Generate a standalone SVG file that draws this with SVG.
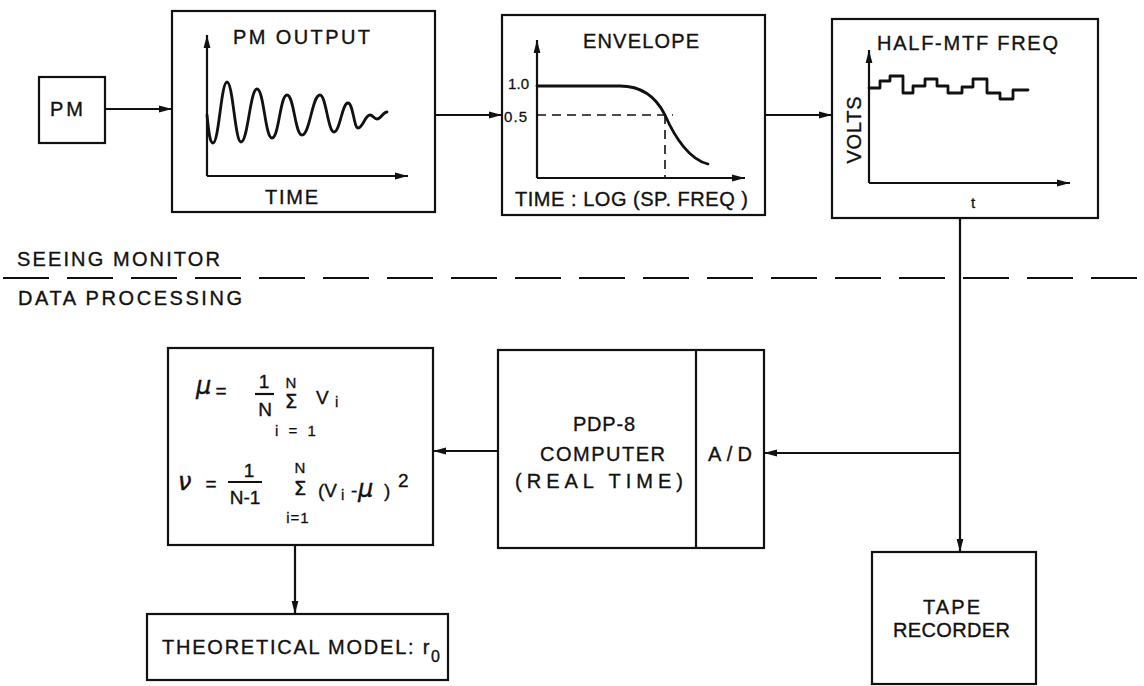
<svg xmlns="http://www.w3.org/2000/svg" width="1144" height="686" viewBox="0 0 1144 686">
<style>
.bx{fill:none;stroke:#111;stroke-width:2.2}
.ln{fill:none;stroke:#111;stroke-width:2.2}
.cv{fill:none;stroke:#111;stroke-width:2.8;stroke-linejoin:round;stroke-linecap:round}
.ds{fill:none;stroke:#111;stroke-width:1.6;stroke-dasharray:9 6}
.t{font-family:"Liberation Sans",Arial,sans-serif;font-size:20px;fill:#111;stroke:#111;stroke-width:0.35}
.s{font-family:"Liberation Sans",Arial,sans-serif;font-size:19px;fill:#111;stroke:#111;stroke-width:0.35}
.k{font-family:"Liberation Sans",Arial,sans-serif;font-size:15px;fill:#111;stroke:#111;stroke-width:0.3}
.g{font-family:"DejaVu Sans","Liberation Sans",sans-serif;font-style:italic;font-size:24px;fill:#111;stroke:#111;stroke-width:0.4}
.sg{font-family:"DejaVu Sans","Liberation Sans",sans-serif;font-size:20px;fill:#111;stroke:#111;stroke-width:0.4}
</style>
<defs>
<marker id="ah" markerWidth="13" markerHeight="8" refX="13" refY="4" orient="auto" markerUnits="userSpaceOnUse"><path d="M0,0.6 L13,4 L0,7.4 z" fill="#111"/></marker>
</defs>
<rect width="1144" height="686" fill="#fff"/>

<g id="divider">
<line x1="3" y1="278" x2="1144" y2="278" class="ln" stroke-width="1.8" stroke-dasharray="46 18"/>
<text class="t" x="17" y="266" textLength="203" lengthAdjust="spacing">SEEING MONITOR</text>
<text class="t" x="18" y="305" textLength="224" lengthAdjust="spacing">DATA PROCESSING</text>
</g>

<g id="pm">
<rect class="bx" x="39" y="77" width="66" height="66"/>
<text class="t" x="50" y="116" textLength="33" lengthAdjust="spacing">PM</text>
</g>

<g id="pm-output">
<rect class="bx" x="172" y="11" width="263" height="201"/>
<text class="t" x="233" y="44" textLength="137" lengthAdjust="spacing">PM OUTPUT</text>
<line class="ln" x1="207" y1="176" x2="207" y2="35" marker-end="url(#ah)"/>
<line class="ln" x1="207" y1="176" x2="408" y2="176" marker-end="url(#ah)"/>
<path class="cv" d="M207,115 C209,135 210,143 213,143 C219,143 221,82 227,82 C233,82 235,142 241,142 C248,142 250,89 257,89 C264,89 265,138 272,138 C279,138 280,95 287,95 C294,95 295,135 302,135 C310,135 312,95 320,95 C326,95 328,132 334,132 C340,132 342,103 348,103 C353,103 354,128 358,128 C363,128 365,115 370,115 C373,115 374,119 377,119 C381,119 383,112 387,112"/>
<text class="t" x="265" y="204" textLength="53" lengthAdjust="spacing">TIME</text>
</g>

<g id="envelope">
<rect class="bx" x="502" y="15" width="263" height="200"/>
<text class="t" x="583" y="48" textLength="116" lengthAdjust="spacing">ENVELOPE</text>
<line class="ln" x1="537" y1="178" x2="537" y2="40" marker-end="url(#ah)"/>
<line class="ln" x1="537" y1="178" x2="745" y2="178" marker-end="url(#ah)"/>
<text class="k" x="508" y="89" font-size="17" textLength="21" lengthAdjust="spacing">1.0</text>
<text class="k" x="504" y="122" font-size="17" textLength="23" lengthAdjust="spacing">0.5</text>
<line class="ds" x1="537" y1="115" x2="673" y2="115"/>
<line class="ds" x1="665" y1="115" x2="665" y2="178"/>
<path class="cv" d="M537,86 H620 C640,86 655,95 665,115 C675,138 690,160 708,164"/>
<text class="t" x="515" y="206" textLength="233" lengthAdjust="spacing">TIME : LOG (SP. FREQ )</text>
</g>

<g id="half-mtf">
<rect class="bx" x="832" y="19" width="266" height="199"/>
<text class="t" x="877" y="50" textLength="181" lengthAdjust="spacing">HALF-MTF FREQ</text>
<line class="ln" x1="869" y1="183" x2="869" y2="50" marker-end="url(#ah)"/>
<line class="ln" x1="869" y1="183" x2="1070" y2="183" marker-end="url(#ah)"/>
<path class="cv" d="M869,88 H880 V81 H890 V76 H903 V93 H913 V86 H925 V79 H937 V86 H948 V93 H962 V87 H973 V79 H987 V93 H1000 V99 H1013 V90 H1028"/>
<text class="t" transform="translate(861,130) rotate(-90)" text-anchor="middle" textLength="67" lengthAdjust="spacing">VOLTS</text>
<text class="k" x="973" y="208" font-size="17" text-anchor="middle">t</text>
</g>

<g id="stats">
<rect class="bx" x="168" y="348" width="265" height="197"/>
<text class="g" x="196" y="394">μ</text>
<text class="s" x="221" y="397" text-anchor="middle">=</text>
<text class="s" x="264" y="388" text-anchor="middle">1</text>
<line class="ln" x1="255" y1="394" x2="274" y2="394" stroke-width="1.8"/>
<text class="s" x="265" y="416" text-anchor="middle">N</text>
<text class="k" x="291" y="388" text-anchor="middle">N</text>
<text class="sg" x="291" y="408" text-anchor="middle">Σ</text>
<text class="k" x="297" y="436" text-anchor="middle" letter-spacing="3">i = 1</text>
<text class="s" x="316" y="404">V</text>
<text class="k" x="335" y="407">i</text>

<text class="g" x="178" y="490">ν</text>
<text class="s" x="211" y="490" text-anchor="middle">=</text>
<text class="s" x="249" y="477" text-anchor="middle">1</text>
<line class="ln" x1="228" y1="482" x2="262" y2="482" stroke-width="1.8"/>
<text class="s" x="245" y="504" text-anchor="middle">N-1</text>
<text class="k" x="300" y="473" text-anchor="middle">N</text>
<text class="sg" x="300" y="495" text-anchor="middle">Σ</text>
<text class="k" x="298" y="523" text-anchor="middle" letter-spacing="1">i=1</text>
<text class="s" x="318" y="497">(V</text>
<text class="k" x="341" y="500">i</text>
<text class="s" x="351" y="497">-</text>
<text class="g" x="358" y="497">μ</text>
<text class="s" x="384" y="497">)</text>
<text class="s" x="398" y="487">2</text>
</g>

<g id="computer">
<rect class="bx" x="498" y="350" width="266" height="198"/>
<line class="ln" x1="696" y1="350" x2="696" y2="548"/>
<text class="t" x="573" y="431" textLength="62" lengthAdjust="spacing">PDP-8</text>
<text class="t" x="540" y="461" textLength="125" lengthAdjust="spacing">COMPUTER</text>
<text class="t" x="515" y="488" textLength="168" lengthAdjust="spacing">(REAL TIME)</text>
<text class="t" x="708" y="461" textLength="44" lengthAdjust="spacing">A/D</text>
</g>

<g id="model">
<rect class="bx" x="147" y="614" width="301" height="66"/>
<text class="t" x="162" y="654" textLength="278" lengthAdjust="spacing">THEORETICAL MODEL: r<tspan dy="8" font-size="16">0</tspan></text>
</g>

<g id="tape">
<rect class="bx" x="872" y="552" width="164" height="132"/>
<text class="t" x="923" y="614" textLength="57" lengthAdjust="spacing">TAPE</text>
<text class="t" x="893" y="637" textLength="117" lengthAdjust="spacing">RECORDER</text>
</g>

<g id="connectors">
<line class="ln" x1="105" y1="109" x2="172" y2="109" marker-end="url(#ah)"/>
<line class="ln" x1="435" y1="115" x2="502" y2="115" marker-end="url(#ah)"/>
<line class="ln" x1="765" y1="115" x2="832" y2="115" marker-end="url(#ah)"/>
<line class="ln" x1="960" y1="218" x2="960" y2="552" marker-end="url(#ah)"/>
<line class="ln" x1="960" y1="453" x2="764" y2="453" marker-end="url(#ah)"/>
<line class="ln" x1="498" y1="451" x2="433" y2="451" marker-end="url(#ah)"/>
<line class="ln" x1="295" y1="545" x2="295" y2="614" marker-end="url(#ah)"/>
</g>
</svg>
